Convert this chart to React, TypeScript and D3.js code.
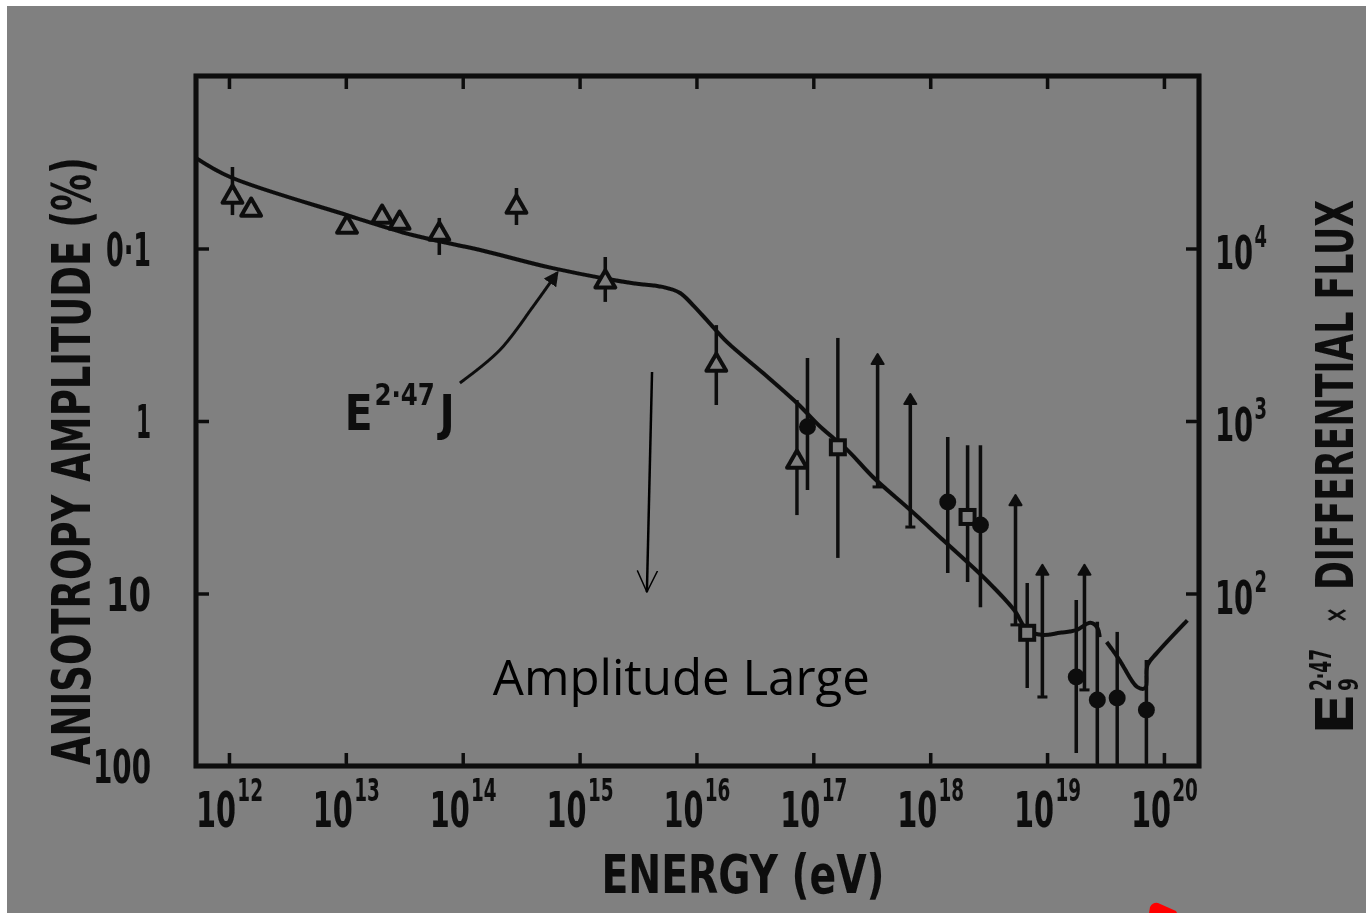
import React, { useEffect, useRef } from 'react';
import * as d3 from 'd3';

// values: energies as log10(E/eV), amplitudes in %
const curveLogE = [11.72, 12.01, 13.01, 13.57, 14.15, 14.77, 15.43, 15.71, 15.86, 15.97, 16.11, 16.26, 16.57, 16.86, 17.06, 17.29, 17.51, 17.83, 18.11, 18.48, 18.72, 18.83, 18.96, 19.11, 19.25, 19.37, 19.43, 19.45, NaN, 19.51, 19.62, 19.77, 19.84, 19.86, 19.94, 20.2];
const curveAmp = [0.0299, 0.0385, 0.064, 0.0835, 0.102, 0.13, 0.158, 0.167, 0.181, 0.213, 0.27, 0.348, 0.527, 0.787, 1.08, 1.47, 2.11, 3.28, 4.9, 8.35, 12.5, 16.3, 17.4, 16.9, 16.3, 14.8, 15.8, 17.9, NaN, 19.1, 24.3, 34.8, 35.3, 26.0, 22.1, 14.3];

// open triangles
const triLogE = [12.03, 12.19, 13.01, 13.31, 13.46, 13.8, 14.46, 15.22, 16.17, 16.86];
const triAmp = [0.0503, 0.0598, 0.075, 0.0657, 0.0711, 0.0824, 0.0575, 0.156, 0.474, 1.73];
const triErrLow = [0.0337, null, null, null, null, 0.0665, 0.0446, 0.112, 0.278, 0.756];
const triErrHigh = [0.064, null, null, null, null, 0.109, 0.0731, 0.204, 0.808, 3.51];

// open squares
const sqLogE = [17.21, 18.32, 18.83];
const sqAmp = [1.42, 3.6, 16.9];
const sqErrLow = [0.33, 1.38, 8.69];
const sqErrHigh = [6.22, 8.58, 35.3];

// filled circles
const dotLogE = [16.95, 18.15, 18.43, 19.25, 19.43, 19.6, 19.85];
const dotAmp = [1.08, 2.95, 4.01, 30.5, 41.4, 40.3, 47.3];
const dotErrLow = [0.431, 1.24, 1.38, 10.9, 14.6, 16.7, 24.3];
const dotErrHigh = [2.51, 7.6, 12.0, 84.1, 100, 100, 100];

// limits (arrow at the top end)
const limLogE = [17.55, 17.83, 18.73, 18.96, 19.32];
const limTop = [0.426, 0.726, 2.8, 7.09, 7.09];
const limBase = [2.41, 4.12, 15.2, 39.8, 36.2];

// axes
const xTickExp = [12, 13, 14, 15, 16, 17, 18, 19, 20];
const leftTicks = [0.1, 1, 10, 100];
const leftTickLabels = ['0·1', '1', '10', '100'];
const rightTicks = [1e4, 1e3, 1e2];
const rightTickExp = ['4', '3', '2'];

// annotations (same data units)
const pointerLogE = [13.976, 14.318, 14.6, 14.806];
const pointerAmp = [0.602, 0.388, 0.218, 0.139];
const bigArrowLogE = [15.62, 15.576];
const bigArrowAmp = [0.52, 9.8];

const W = 1366;
const H = 913;
const FONT = '"Liberation Sans Narrow", "DejaVu Sans Condensed", "Liberation Sans", sans-serif';
const INK = '#0d0d0d';
const BG = '#808080';

const App: React.FC = () => {
  const svgRef = useRef<SVGSVGElement>(null);

  useEffect(() => {
    if (!svgRef.current) return;
    const svg = d3.select(svgRef.current);
    svg.selectAll('*').remove();

    const x = d3.scaleLog().domain([Math.pow(10, 11.718), Math.pow(10, 20.3)]).range([196, 1199]);
    const y = d3.scaleLog().domain([0.01, 100]).range([76, 766]);
    const yFlux = d3.scaleLog().domain([1e5, 1e1]).range([76, 766]);
    const X = (e: number) => x(Math.pow(10, e));

    const defs = svg.append('defs');
    defs.append('filter').attr('id', 'scan')
      .append('feGaussianBlur').attr('stdDeviation', 0.7);
    defs.append('marker')
      .attr('id', 'solidHead').attr('viewBox', '0 0 10 10')
      .attr('refX', 8).attr('refY', 5)
      .attr('markerWidth', 5).attr('markerHeight', 5)
      .attr('markerUnits', 'strokeWidth')
      .attr('orient', 'auto')
      .append('path').attr('d', 'M0,0 L10,5 L0,10 Z').attr('fill', INK);
    defs.append('marker')
      .attr('id', 'openHead').attr('viewBox', '0 0 20 20')
      .attr('refX', 19).attr('refY', 10)
      .attr('markerWidth', 9).attr('markerHeight', 9)
      .attr('markerUnits', 'strokeWidth')
      .attr('orient', 'auto')
      .append('path').attr('d', 'M0,1 L19,10 L0,19').attr('fill', 'none')
      .attr('stroke', '#000').attr('stroke-width', 1.3);

    // page + scanned background
    svg.append('rect').attr('width', W).attr('height', H).attr('fill', '#fff');
    svg.append('rect').attr('x', 7).attr('y', 6).attr('width', W - 7).attr('height', H - 6).attr('fill', BG);

    const g = svg.append('g').attr('filter', 'url(#scan)');

    // squeezed bold label
    const label = (px: number, py: number, txt: string, size: number, len: number, anchor = 'start') =>
      g.append('text')
        .attr('x', px).attr('y', py)
        .attr('text-anchor', anchor)
        .attr('textLength', len).attr('lengthAdjust', 'spacingAndGlyphs')
        .style('font-family', FONT).style('font-weight', 'bold').style('font-size', `${size}px`)
        .attr('fill', INK)
        .text(txt);

    // one text element with a raised exponent, squeezed to a width
    const powLabel = (px: number, py: number, base: string, exp: string, size: number, expSize: number, rise: number, len: number) => {
      const t = g.append('text')
        .attr('x', px).attr('y', py)
        .attr('textLength', len).attr('lengthAdjust', 'spacingAndGlyphs')
        .style('font-family', FONT).style('font-weight', 'bold')
        .attr('fill', INK);
      t.append('tspan').style('font-size', `${size}px`).text(base);
      t.append('tspan').style('font-size', `${expSize}px`).attr('dx', 2).attr('dy', -rise).text(exp);
      return t;
    };

    // frame
    g.append('rect')
      .attr('x', 196).attr('y', 76)
      .attr('width', 1199 - 196).attr('height', 766 - 76)
      .attr('fill', 'none').attr('stroke', INK).attr('stroke-width', 5);

    // inward ticks
    const decades = xTickExp.map(e => Math.pow(10, e));
    const bottomAxis = g.append('g').attr('transform', 'translate(0,766)')
      .call(d3.axisBottom(x).tickValues(decades).tickSize(-13).tickFormat(() => ''));
    const topAxis = g.append('g').attr('transform', 'translate(0,76)')
      .call(d3.axisTop(x).tickValues(decades).tickSize(-13).tickFormat(() => ''));
    const leftAxis = g.append('g').attr('transform', 'translate(196,0)')
      .call(d3.axisLeft(y).tickValues(leftTicks.slice(0, 3)).tickSize(-13).tickFormat(() => ''));
    const rightAxis = g.append('g').attr('transform', 'translate(1199,0)')
      .call(d3.axisRight(yFlux).tickValues(rightTicks).tickSize(-13).tickFormat(() => ''));
    [bottomAxis, topAxis, leftAxis, rightAxis].forEach(a => {
      a.select('.domain').remove();
      a.selectAll('line').attr('stroke', INK).attr('stroke-width', 3.5);
    });

    // bottom tick labels
    xTickExp.forEach(e => {
      powLabel(X(e) - 33, 827, '10', String(e), 50, 32, 26, 67);
    });

    // left tick labels
    const leftLens = [45, 15, 45, 58];
    leftTicks.forEach((v, i) => {
      label(151, y(v) + 17, leftTickLabels[i], 46, leftLens[i], 'end');
    });

    // right tick labels
    rightTicks.forEach((v, i) => {
      powLabel(1215, yFlux(v) + 20, '10', rightTickExp[i], 46, 30, 22, 52);
    });

    // axis titles
    label(743, 893, 'ENERGY  (eV)', 54, 283, 'middle');

    g.append('text')
      .attr('transform', 'translate(90,461) rotate(-90)')
      .attr('text-anchor', 'middle')
      .attr('textLength', 608).attr('lengthAdjust', 'spacingAndGlyphs')
      .style('font-family', FONT).style('font-weight', 'bold').style('font-size', '54px')
      .attr('fill', INK)
      .text('ANISOTROPY AMPLITUDE (%)');

    const rt = g.append('g').attr('transform', 'translate(1353,735) rotate(-90)')
      .style('font-family', FONT).style('font-weight', 'bold').attr('fill', INK);
    const rtText = (px: number, py: number, txt: string, size: number, len: number) =>
      rt.append('text').attr('x', px).attr('y', py)
        .attr('textLength', len).attr('lengthAdjust', 'spacingAndGlyphs')
        .style('font-size', `${size}px`).text(txt);
    rtText(0, 0, 'E', 52, 42);
    rtText(44, 5, '9', 26, 13);
    rtText(44, -22, '2·47', 30, 42);
    rtText(112, -6, '×', 32, 16);
    rtText(145, 0, 'DIFFERENTIAL FLUX', 52, 390);

    // fitted curve
    const curvePts: [number, number][] = curveLogE.map((e, i) => [e, curveAmp[i]]);
    const line = d3.line<[number, number]>()
      .defined(d => !isNaN(d[0]))
      .x(d => X(d[0]))
      .y(d => y(d[1]))
      .curve(d3.curveCatmullRom.alpha(0.5));
    g.append('path')
      .attr('d', line(curvePts) || '')
      .attr('fill', 'none').attr('stroke', INK).attr('stroke-width', 4)
      .attr('stroke-linejoin', 'round');

    // E^2.47 J label with pointer
    const lbl = powLabel(X(12.99), y(1.13), 'E', '2·47', 50, 30, 25, 110);
    lbl.append('tspan').style('font-size', '50px').attr('dx', 5).attr('dy', 25).text('J');

    const pointerPts: [number, number][] = pointerLogE.map((e, i) => [e, pointerAmp[i]]);
    g.append('path')
      .attr('d', d3.line<[number, number]>().x(d => X(d[0])).y(d => y(d[1])).curve(d3.curveCatmullRom)(pointerPts) || '')
      .attr('fill', 'none').attr('stroke', INK).attr('stroke-width', 3)
      .attr('marker-end', 'url(#solidHead)');

    // error bars
    const bar = (e: number, lo: number, hi: number) =>
      g.append('line')
        .attr('x1', X(e)).attr('x2', X(e))
        .attr('y1', y(lo)).attr('y2', y(hi))
        .attr('stroke', INK).attr('stroke-width', 3.5);
    triLogE.forEach((e, i) => {
      if (triErrLow[i] != null && triErrHigh[i] != null) bar(e, triErrLow[i] as number, triErrHigh[i] as number);
    });
    sqLogE.forEach((e, i) => bar(e, sqErrLow[i], sqErrHigh[i]));
    dotLogE.forEach((e, i) => bar(e, dotErrLow[i], dotErrHigh[i]));

    // limits: bar with foot, arrowhead on top
    limLogE.forEach((e, i) => {
      const cx = X(e);
      bar(e, limTop[i], limBase[i]);
      g.append('line')
        .attr('x1', cx - 5).attr('x2', cx + 5)
        .attr('y1', y(limBase[i])).attr('y2', y(limBase[i]))
        .attr('stroke', INK).attr('stroke-width', 3);
      g.append('path')
        .attr('d', `M${cx - 6},${y(limTop[i]) + 7} L${cx},${y(limTop[i]) - 3} L${cx + 6},${y(limTop[i]) + 7} Z`)
        .attr('fill', INK).attr('stroke', INK).attr('stroke-width', 2)
        .attr('stroke-linejoin', 'round');
    });

    // markers
    const tri = d3.symbol().type(d3.symbolTriangle).size(170);
    g.selectAll('.tri')
      .data(triLogE.map((e, i) => [e, triAmp[i]]))
      .join('path')
      .attr('class', 'tri')
      .attr('d', tri() || '')
      .attr('transform', d => `translate(${X(d[0])},${y(d[1])})`)
      .attr('fill', BG).attr('stroke', INK).attr('stroke-width', 4)
      .attr('stroke-linejoin', 'round');

    g.selectAll('.sq')
      .data(sqLogE.map((e, i) => [e, sqAmp[i]]))
      .join('rect')
      .attr('class', 'sq')
      .attr('x', d => X(d[0]) - 7).attr('y', d => y(d[1]) - 7)
      .attr('width', 14).attr('height', 14)
      .attr('fill', BG).attr('stroke', INK).attr('stroke-width', 4);

    g.selectAll('.dot')
      .data(dotLogE.map((e, i) => [e, dotAmp[i]]))
      .join('circle')
      .attr('class', 'dot')
      .attr('cx', d => X(d[0])).attr('cy', d => y(d[1]))
      .attr('r', 8.5)
      .attr('fill', INK);

    // overlaid annotation (crisp, not scanned)
    svg.append('line')
      .attr('x1', X(bigArrowLogE[0])).attr('y1', y(bigArrowAmp[0]))
      .attr('x2', X(bigArrowLogE[1])).attr('y2', y(bigArrowAmp[1]))
      .attr('stroke', '#000').attr('stroke-width', 2.5)
      .attr('marker-end', 'url(#openHead)');

    svg.append('text')
      .attr('x', X(14.258)).attr('y', y(38.8))
      .attr('textLength', 377).attr('lengthAdjust', 'spacingAndGlyphs')
      .style('font-family', '"Open Sans", "Noto Sans", sans-serif')
      .style('font-size', '50px')
      .attr('fill', '#000')
      .text('Amplitude Large');

    // red smudge at the bottom edge
    svg.append('path')
      .attr('d', 'M1149,913 L1150,907 Q1153,902 1158,903 L1176,911 L1177,913 Z')
      .attr('fill', '#ff0000');
  }, []);

  return (
    <svg
      ref={svgRef}
      width={W}
      height={H}
      style={{ position: 'absolute', left: 0, top: 0, display: 'block' }}
    />
  );
};

export default App;
